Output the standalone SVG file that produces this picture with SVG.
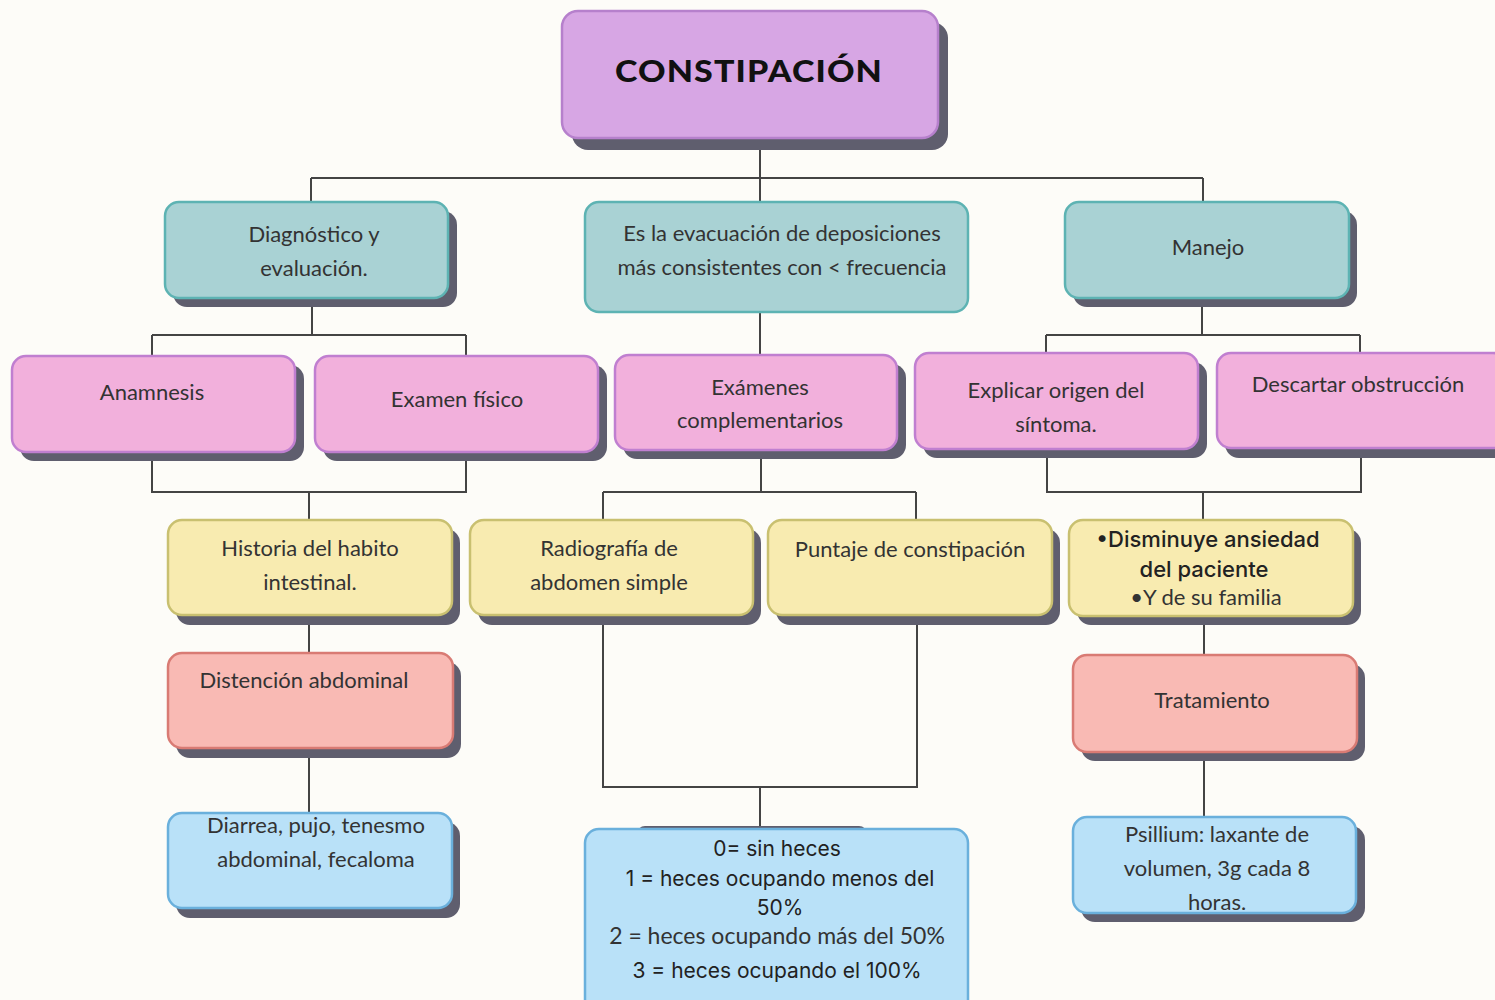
<svg xmlns="http://www.w3.org/2000/svg" width="1495" height="1000" viewBox="0 0 1495 1000">
<style>
.bg{fill:#fdfcf8}
.sh{fill:#5f5e6e}
.box{stroke-width:2.5}
.title{fill:#d7a6e4;stroke:#b680cc}
.teal{fill:#a9d2d4;stroke:#5db3b3}
.pink{fill:#f2b0dc;stroke:#c07fd0}
.yel{fill:#f8ebb0;stroke:#c9c070}
.sal{fill:#f9bab4;stroke:#d97b74}
.blu{fill:#b9e1f8;stroke:#6ab0dc}
.t{font-family:Lato,"Open Sans","Liberation Sans",sans-serif;font-size:22px;fill:#333;text-anchor:middle}
.i{font-family:Inter,"Liberation Sans",sans-serif;font-size:21px;fill:#222;text-anchor:middle}
.tt{font-family:Lato,"Liberation Sans",sans-serif;font-weight:900;font-size:30px;letter-spacing:1px;fill:#111;text-anchor:middle}
.c{fill:none;stroke:#444;stroke-width:2}
</style>
<rect class="bg" x="0" y="0" width="1495" height="1000"/>
<g id="connectors">
<path class="c" d="M760 138V178M311 178H1203M311 178V202M760 178V202M1203 178V202"/>
<path class="c" d="M312 298V335M152 335H466M152 335V356M466 335V356"/>
<path class="c" d="M760 312V355"/>
<path class="c" d="M1202 298V335M1046 335H1360M1046 335V353M1360 335V353"/>
<path class="c" d="M152 452V492H466V452M309 492V520"/>
<path class="c" d="M761 450V492M603 492H916M603 492V520M916 492V520"/>
<path class="c" d="M1047 449V492H1361V448M1203 492V520"/>
<path class="c" d="M309 615V653M309 748V813"/>
<path class="c" d="M603 615V787H917V615M760 787V830"/>
<path class="c" d="M1204 616V655M1204 752V817"/>
</g>
<g id="n-title">
<rect class="sh" x="572" y="22" width="376" height="128" rx="16"/>
<rect class="box title" x="562" y="11" width="376" height="127" rx="16"/>
<text class="tt" x="749" y="82" textLength="268" lengthAdjust="spacingAndGlyphs">CONSTIPACIÓN</text>
</g>
<g id="n-diag">
<rect class="sh" x="173" y="211" width="284" height="96" rx="14"/>
<rect class="box teal" x="165" y="202" width="283" height="96" rx="14"/>
<text class="t" x="314" y="242">Diagnóstico y</text>
<text class="t" x="314" y="276">evaluación.</text>
</g>
<g id="n-def">
<rect class="box teal" x="585" y="202" width="383" height="110" rx="14"/>
<text class="t" x="782" y="241">Es la evacuación de deposiciones</text>
<text class="t" x="782" y="275">más consistentes con &lt; frecuencia</text>
</g>
<g id="n-manejo">
<rect class="sh" x="1073" y="211" width="284" height="96" rx="14"/>
<rect class="box teal" x="1065" y="202" width="284" height="96" rx="14"/>
<text class="t" x="1208" y="255">Manejo</text>
</g>
<g id="n-anam">
<rect class="sh" x="20" y="365" width="284" height="96" rx="14"/>
<rect class="box pink" x="12" y="356" width="283" height="96" rx="14"/>
<text class="t" x="152" y="400">Anamnesis</text>
</g>
<g id="n-exfis">
<rect class="sh" x="323" y="365" width="284" height="96" rx="14"/>
<rect class="box pink" x="315" y="356" width="283" height="96" rx="14"/>
<text class="t" x="457" y="407">Examen físico</text>
</g>
<g id="n-excomp">
<rect class="sh" x="623" y="364" width="283" height="95" rx="14"/>
<rect class="box pink" x="615" y="355" width="282" height="95" rx="14"/>
<text class="t" x="760" y="395">Exámenes</text>
<text class="t" x="760" y="428">complementarios</text>
</g>
<g id="n-explicar">
<rect class="sh" x="923" y="362" width="284" height="96" rx="14"/>
<rect class="box pink" x="915" y="353" width="283" height="96" rx="14"/>
<text class="t" x="1056" y="398">Explicar origen del</text>
<text class="t" x="1056" y="432">síntoma.</text>
</g>
<g id="n-descartar">
<rect class="sh" x="1225" y="362" width="290" height="96" rx="14"/>
<rect class="box pink" x="1217" y="353" width="290" height="95" rx="14"/>
<text class="t" x="1358" y="392">Descartar obstrucción</text>
</g>
<g id="n-historia">
<rect class="sh" x="176" y="529" width="284" height="96" rx="14"/>
<rect class="box yel" x="168" y="520" width="284" height="95" rx="14"/>
<text class="t" x="310" y="556">Historia del habito</text>
<text class="t" x="310" y="590">intestinal.</text>
</g>
<g id="n-radio">
<rect class="sh" x="478" y="529" width="283" height="96" rx="14"/>
<rect class="box yel" x="470" y="520" width="283" height="95" rx="14"/>
<text class="t" x="609" y="556">Radiografía de</text>
<text class="t" x="609" y="590">abdomen simple</text>
</g>
<g id="n-puntaje">
<rect class="sh" x="776" y="529" width="284" height="96" rx="14"/>
<rect class="box yel" x="768" y="520" width="284" height="95" rx="14"/>
<text class="t" x="910" y="557">Puntaje de constipación</text>
</g>
<g id="n-ansiedad">
<rect class="sh" x="1077" y="529" width="284" height="96" rx="14"/>
<rect class="box yel" x="1069" y="520" width="284" height="96" rx="14"/>
<text class="i" x="1208" y="547" style="font-size:22px;font-weight:500">•Disminuye ansiedad</text>
<text class="i" x="1204" y="577" style="font-size:22px;font-weight:500">del paciente</text>
<text class="t" x="1206" y="605">•Y de su familia</text>
</g>
<g id="n-distencion">
<rect class="sh" x="176" y="662" width="285" height="96" rx="14"/>
<rect class="box sal" x="168" y="653" width="285" height="95" rx="14"/>
<text class="t" x="304" y="688">Distención abdominal</text>
</g>
<g id="n-tratamiento">
<rect class="sh" x="1081" y="664" width="284" height="97" rx="14"/>
<rect class="box sal" x="1073" y="655" width="284" height="97" rx="14"/>
<text class="t" x="1212" y="708">Tratamiento</text>
</g>
<g id="n-diarrea">
<rect class="sh" x="176" y="822" width="284" height="96" rx="14"/>
<rect class="box blu" x="168" y="813" width="284" height="95" rx="14"/>
<text class="t" x="316" y="833">Diarrea, pujo, tenesmo</text>
<text class="t" x="316" y="867">abdominal, fecaloma</text>
</g>
<g id="n-escala">
<rect class="sh" x="637" y="826" width="230" height="30" rx="8"/>
<rect class="box blu" x="585" y="829" width="383" height="185" rx="14"/>
<text class="i" x="777" y="856">0= sin heces</text>
<text class="i" x="780" y="886">1 = heces ocupando menos del</text>
<text class="i" x="780" y="915">50%</text>
<text class="t" x="777" y="944" style="font-size:23px">2 = heces ocupando más del 50%</text>
<text class="i" x="777" y="978">3 = heces ocupando el 100%</text>
</g>
<g id="n-psillium">
<rect class="sh" x="1081" y="826" width="284" height="96" rx="14"/>
<rect class="box blu" x="1073" y="817" width="283" height="96" rx="14"/>
<text class="t" x="1217" y="842">Psillium: laxante de</text>
<text class="t" x="1217" y="876">volumen, 3g cada 8</text>
<text class="t" x="1217" y="910">horas.</text>
</g>
</svg>
